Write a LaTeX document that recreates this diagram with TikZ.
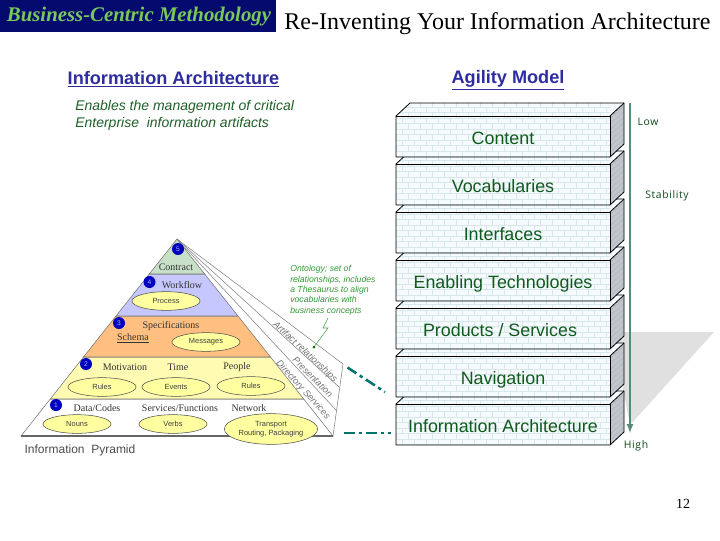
\documentclass[tikz,border=0pt]{standalone}
\usepackage{fontspec}
\setmainfont{Liberation Sans}
\newfontfamily\timesfont{Liberation Serif}
\newfontfamily\labelfont[LetterSpace=6]{Open Sans}
\usetikzlibrary{shapes.geometric}
\definecolor{bannerblue}{RGB}{4,10,110}
\definecolor{bannergreen}{RGB}{120,200,90}
\definecolor{headblue}{RGB}{45,45,160}
\definecolor{notegreen}{RGB}{30,95,40}
\definecolor{blockgreen}{RGB}{16,90,30}
\definecolor{brickfill}{RGB}{246,250,252}
\definecolor{brickline}{RGB}{214,232,236}
\definecolor{sidegray}{RGB}{192,198,204}
\definecolor{sideline}{RGB}{178,186,192}
\definecolor{arrowgreen}{RGB}{85,140,115}
\definecolor{linkteal}{RGB}{0,115,110}
\definecolor{pillyellow}{RGB}{255,255,160}
\tikzset{
  pyrlabel/.style={font=\timesfont\fontsize{7.5}{8}\selectfont, text=black!80, inner sep=0pt},
  pill/.style={ellipse, draw=black!70, fill=pillyellow, inner sep=0pt, font=\fontsize{5.6}{7}\selectfont, text=black!75, align=center},
  badge/.style={circle, fill=blue!75!black, minimum size=9pt, inner sep=0pt, font=\fontsize{5}{5}\selectfont, text=white!70!blue},
  fanlabel/.style={font=\fontsize{7}{8}\selectfont, text=black!55, inner sep=0pt},
  blocklabel/.style={font=\fontsize{13.4}{15}\selectfont, text=blockgreen, inner sep=0pt, text height=10pt, text depth=1pt},
  linkline/.style={draw=linkteal, line width=1.9pt, dash pattern=on 8pt off 3pt on 2.5pt off 3pt},
  stablabel/.style={font=\labelfont\fontsize{7.8}{9}\selectfont, text=blockgreen!80!black, inner sep=0pt}
}
% one storey of the agility stack, #1 = top edge of the front face
\newcommand{\brickblock}[1]{
  \fill[brickfill] (396,#1) -- (410,#1-13) -- (624,#1-13) -- (610,#1) -- cycle;
  \fill[brickfill] (396,#1) rectangle (610,#1+41);
  \begin{scope}
    \clip (396,#1) -- (410,#1-13) -- (610,#1-13) -- (610,#1+41) -- (396,#1+41) -- cycle;
    \foreach \r in {-3,...,7}{
      \draw[brickline, line width=0.5pt] (396,#1+5.5*\r+2) -- (624,#1+5.5*\r+2);
      \pgfmathsetmacro\shift{6*mod(\r+3,2)}
      \foreach \c in {0,...,18}{
        \draw[brickline, line width=0.5pt] (396+\shift+12*\c,#1+5.5*\r+2) -- +(0,5.5);
      }
    }
  \end{scope}
  \fill[sidegray] (610,#1) -- (624,#1-13) -- (624,#1+28) -- (610,#1+41) -- cycle;
  \foreach \r in {0,...,6}{
    \draw[sideline, line width=0.5pt] (610,#1+5.5*\r+3) -- (624,#1+5.5*\r-10);
  }
  \draw[black, semithick, line join=round] (396,#1) -- (410,#1-13) -- (624,#1-13) -- (624,#1+28) -- (610,#1+41) -- (396,#1+41) -- cycle;
  \draw[black, semithick] (396,#1) -- (610,#1) -- (610,#1+41);
  \draw[black, semithick] (610,#1) -- (624,#1-13);
}
\begin{document}
\begin{tikzpicture}[x=0.75pt, y=-0.75pt]
 \useasboundingbox (0,0) rectangle (720,540);
 \begin{scope}
 % header
 \fill[bannerblue] (0,0) rectangle (276,32);
 \node[inner sep=0pt] (banner) at (139,16.5) {\timesfont\bfseries\itshape\fontsize{15.6}{18}\selectfont\textcolor{bannergreen}{Business-Centric Methodology}};
 \node[inner sep=0pt] (title) at (497.5,23.5) {\timesfont\fontsize{18}{20}\selectfont Re-Inventing Your Information Architecture};
 \node[inner sep=0pt] (infohead) at (173.5,79) {\fontsize{13.6}{16}\selectfont\bfseries\textcolor{headblue}{\underline{Information Architecture}}};
 \node[inner sep=0pt] (agilehead) at (508,80) {\fontsize{13.6}{16}\selectfont\bfseries\textcolor{headblue}{\underline{Agility Model}}};
 \node[anchor=west, inner sep=0pt] (enables) at (75,106.5) {\fontsize{10.5}{12}\selectfont\itshape\textcolor{notegreen}{Enables the management of critical}};
 \node[anchor=west, inner sep=0pt] (enterprise) at (75,123.5) {\fontsize{10.5}{12}\selectfont\itshape\textcolor{notegreen}{Enterprise\ \ information artifacts}};

 % shadow behind the stack
 \fill[black!12] (612,332) -- (714,332) -- (630,425) -- cycle;

 % the pyramid, top layer last
 \foreach \Points/\Col in {
   {(21,436)--(50.3,399)--(303.7,399)--(333,436)}/white,
   {(50.3,399)--(83.5,357)--(270.5,357)--(303.7,399)}/yellow!30,
   {(83.5,357)--(116,316)--(238,316)--(270.5,357)}/orange!50,
   {(116,316)--(149.3,274)--(204.7,274)--(238,316)}/blue!22,
   {(149.3,274)--(177,239)--(204.7,274)}/green!45!black!22}{
   \draw[fill=\Col, draw=black!55] \Points -- cycle;
 }
 \draw[black!60, line width=0.8pt] (21,436) -- (333,436);

 % fan of extra layers on the right
 \coordinate (apex) at (177,239);
 \coordinate (fantop) at (343,364);
 \coordinate (fanmid) at (339,387);
 \coordinate (fanlow) at (336,410);
 \coordinate (fanbase) at (333,436);
 \foreach \Corner in {fantop,fanmid,fanlow}{
   \draw[black!50] (apex) -- (\Corner);
 }
 \draw[black!50] (fantop) -- (fanbase);
 \node[fanlabel, rotate=-43] (artifact) at (305,352) {\itshape Artifact relationships};
 \node[fanlabel, rotate=-45] (present) at (313,377) {\itshape Presentation};
 \node[fanlabel, rotate=-48] (directory) at (303,390) {\itshape Directory Services};

 % layer titles
 \node[pyrlabel] (contract) at (176,267) {Contract};
 \node[pyrlabel] (workflow) at (182,285) {Workflow};
 \node[pyrlabel] (specs) at (171,326) {Specifications};
 \node[pyrlabel] (schema) at (133,338) {\underline{Schema}};
 \node[pyrlabel] (motivation) at (125,367) {Motivation};
 \node[pyrlabel] (time) at (178,367) {Time};
 \node[pyrlabel] (people) at (237,367) {People};
 \node[pyrlabel] (datacodes) at (97,408) {Data/Codes};
 \node[pyrlabel] (services) at (180,408) {Services/Functions};
 \node[pyrlabel] (network) at (249,408) {Network};

 % ellipses
 \foreach \Name/\Where/\Txt in {process/{(166,301)}/Process, messages/{(206,342)}/Messages, rulesa/{(102,387)}/Rules, events/{(176,387)}/Events, rulesb/{(251,386)}/Rules, nouns/{(77,424)}/Nouns, verbs/{(173,424)}/Verbs}{
   \node[pill, minimum width=51pt, minimum height=14pt] (\Name) at \Where {\Txt};
 }
 \node[pill, minimum width=70pt, minimum height=23pt] (transport) at (271,429) {Transport\\Routing, Packaging};

 % numbered badges
 \foreach \Name/\Where/\Num in {bfive/{(178,249)}/5, bfour/{(149.5,282)}/4, bthree/{(119,323)}/3, btwo/{(86,364)}/2, bone/{(56,405)}/1}{
   \node[badge] (\Name) at \Where {\Num};
 }

 % ontology note and its leader
 \node[anchor=north west, inner sep=0pt, align=left, font=\fontsize{6.5}{7.85}\selectfont\itshape, text=green!50!black!80] (ontology) at (290,265) {Ontology; set of\\relationships, includes\\a Thesaurus to align\\vocabularies with\\business concepts};
 \coordinate (leadstart) at (328,318);
 \coordinate (leadend) at (314,347);
 \draw[green!45!black!70, thin] (leadstart) -- (323,328) -- (328,328) -- (leadend);
 \fill[green!45!black] (leadend) circle (1.5);

 \node[inner sep=0pt] (pyrname) at (80,450) {\fontsize{9}{10}\selectfont\textcolor{black!70}{Information\ \ Pyramid}};

 % links from pyramid to stack
 \coordinate (linktopa) at (347.5,367.5);
 \coordinate (linktopb) at (385,392);
 \coordinate (linklowa) at (344,433);
 \coordinate (linklowb) at (391,433);
 \draw[linkline] (linktopa) -- (linktopb);
 \draw[linkline] (linklowa) -- (linklowb);

 % the stack, bottom storey first
 \foreach \Y/\Name/\Pos/\Txt in {404/blockia/{(503,426)}/Information Architecture, 356/blocknav/{(503,378)}/Navigation, 308/blockprod/{(500,330)}/{Products / Services}, 260/blockenab/{(503,282)}/Enabling Technologies, 212/blockint/{(503,234)}/Interfaces, 164/blockvoc/{(503,186)}/Vocabularies, 116/blockcon/{(503,138)}/Content}{
   \brickblock{\Y}
   \node[blocklabel] (\Name) at \Pos {\Txt};
 }

 % stability scale
 \coordinate (stabtop) at (630,103);
 \coordinate (stabend) at (630,433);
 \draw[-latex, arrowgreen, line width=1.3pt] (stabtop) -- (stabend);
 \node[stablabel] (low) at (648,122) {Low};
 \node[stablabel] (stability) at (667,196) {Stability};
 \node[stablabel] (high) at (636,446) {High};

 \node[inner sep=0pt] (pagenum) at (683,504) {\timesfont\fontsize{10.5}{12}\selectfont 12};
 \end{scope}
\end{tikzpicture}
\end{document}
